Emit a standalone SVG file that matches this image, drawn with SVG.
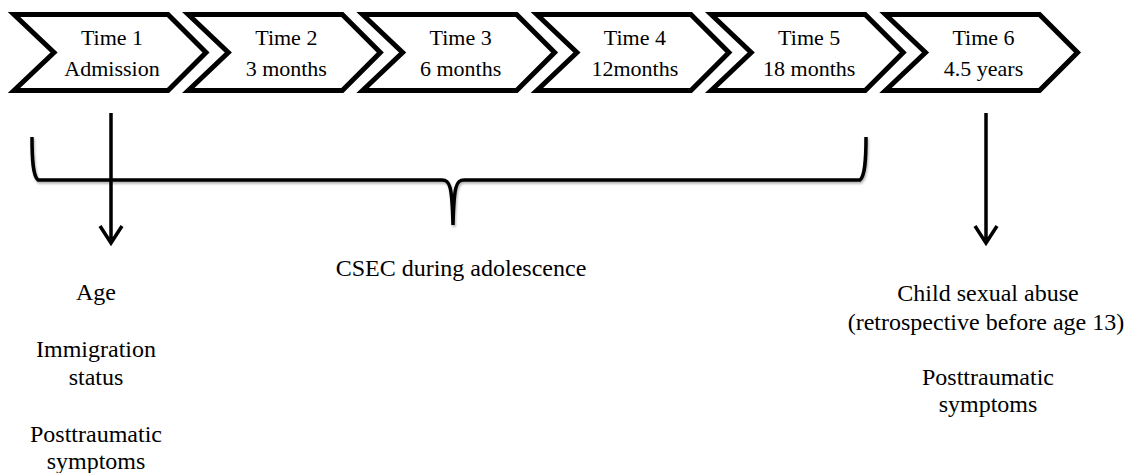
<svg xmlns="http://www.w3.org/2000/svg" width="1138" height="473" viewBox="0 0 1138 473">
<style>
.chev{fill:#fff;stroke:#000;stroke-width:5;stroke-linejoin:miter;stroke-miterlimit:10}
.t{font-family:"Liberation Serif","Times New Roman",serif;fill:#000;text-anchor:middle}
.tl{font-size:22px}
.lb{font-size:24px}
.ln{fill:none;stroke:#000;stroke-width:3.5}
</style>
<defs>
<path id="chevShape" d="M6,14.5 L160,14.5 L198,52.5 L160,90.5 L6,90.5 L46,52.5 Z"/>
<filter id="sh" x="-5%" y="-20%" width="110%" height="160%">
<feDropShadow dx="1" dy="2" stdDeviation="1" flood-color="#000" flood-opacity="0.3"/>
</filter>
</defs>
<g id="time1" transform="translate(8,0)">
<use href="#chevShape" class="chev"/>
<text class="t tl" x="104" y="45">Time 1</text>
<text class="t tl" x="104" y="76">Admission</text>
</g>
<g id="time2" transform="translate(182.3,0)">
<use href="#chevShape" class="chev"/>
<text class="t tl" x="104" y="45">Time 2</text>
<text class="t tl" x="104" y="76">3 months</text>
</g>
<g id="time3" transform="translate(356.6,0)">
<use href="#chevShape" class="chev"/>
<text class="t tl" x="104" y="45">Time 3</text>
<text class="t tl" x="104" y="76">6 months</text>
</g>
<g id="time4" transform="translate(530.9,0)">
<use href="#chevShape" class="chev"/>
<text class="t tl" x="104" y="45">Time 4</text>
<text class="t tl" x="104" y="76">12months</text>
</g>
<g id="time5" transform="translate(705.2,0)">
<use href="#chevShape" class="chev"/>
<text class="t tl" x="104" y="45">Time 5</text>
<text class="t tl" x="104" y="76">18 months</text>
</g>
<g id="time6" transform="translate(879.5,0)">
<use href="#chevShape" class="chev"/>
<text class="t tl" x="104" y="45">Time 6</text>
<text class="t tl" x="104" y="76">4.5 years</text>
</g>
<g id="connectors">
<path class="ln" filter="url(#sh)" d="M32,137 C32,160 33,176 38,180 L442,180 C450,180 452,186 453,225 C454,186 456,180 464,180 L860,180 C865,176 866,160 866,137"/>
<path class="ln" d="M111,113 L111,243 M100,226 L111,243 L122,226"/>
<path class="ln" d="M986,113 L986,243 M975,226 L986,243 L997,226"/>
</g>
<g id="brace-label">
<text class="t lb" x="461" y="276">CSEC during adolescence</text>
</g>
<g id="time1-measures">
<text class="t lb" x="96" y="300">Age</text>
<text class="t lb" x="96" y="357">Immigration</text>
<text class="t lb" x="96" y="385">status</text>
<text class="t lb" x="96" y="442">Posttraumatic</text>
<text class="t lb" x="96" y="469">symptoms</text>
</g>
<g id="time6-measures">
<text class="t lb" x="988" y="301">Child sexual abuse</text>
<text class="t lb" x="986" y="330">(retrospective before age 13)</text>
<text class="t lb" x="988" y="385">Posttraumatic</text>
<text class="t lb" x="988" y="412">symptoms</text>
</g>
</svg>
